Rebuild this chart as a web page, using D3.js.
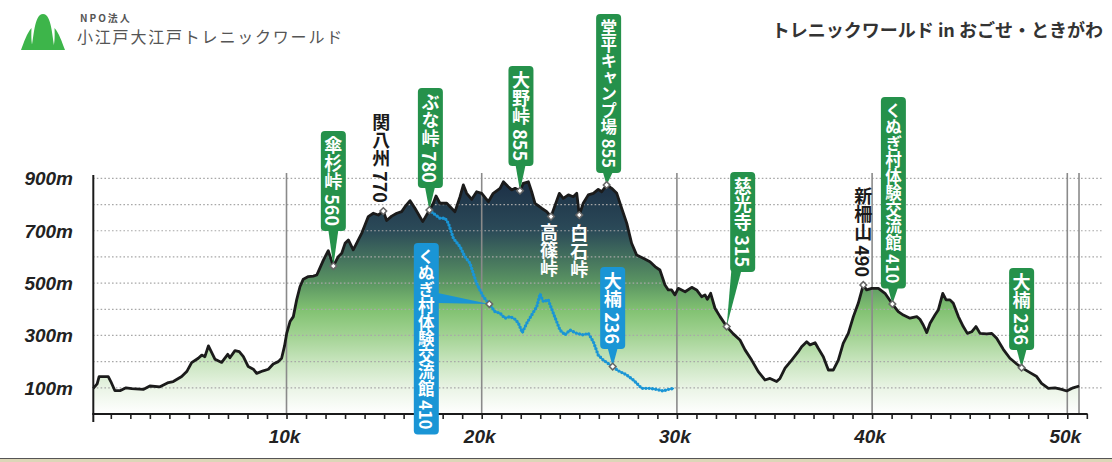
<!DOCTYPE html>
<html>
<head>
<meta charset="utf-8">
<script src="https://cdn.jsdelivr.net/npm/d3@7"></script>
<style>
  body { margin: 0; background: #fff; }
  svg { display: block; font-family: "Noto Sans CJK JP", "Noto Sans", sans-serif; }
  .axisLabel { font-family: "Liberation Sans", Arial, sans-serif; font-weight: bold; font-style: italic; font-size: 19px; fill: #222; }
</style>
</head>
<body>
<div id="chart"></div>
<script>
// main route: distance (km) / elevation (m)
const routeKm = [0.1, 0.3, 0.4, 0.87, 1.0, 1.21, 1.47, 1.78, 2.07, 2.66, 3.0, 3.52, 3.95, 4.2, 4.63, 4.89, 5.14, 5.48, 5.66, 5.82,
  6.0, 6.34, 6.68, 6.99, 7.1, 7.36, 7.58, 7.79, 8.04, 8.3, 8.47, 8.81, 9.07, 9.32, 9.58, 9.75, 9.9, 10.01, 10.18, 10.35,
  10.52, 10.69, 10.86, 11.12, 11.37, 11.55, 11.63, 11.89, 12.14, 12.4, 12.65, 12.83, 13.0, 13.17, 13.42, 13.68, 13.85, 14.02, 14.19, 14.45,
  14.7, 14.96, 15.13, 15.39, 15.65, 15.9, 16.07, 16.33, 16.58, 16.98, 17.32, 17.52, 17.66, 17.86, 18.21, 18.63, 18.89, 19.06, 19.23, 19.49,
  19.74, 20.0, 20.34, 20.59, 20.94, 21.11, 21.36, 21.54, 21.71, 21.96, 22.13, 22.39, 22.56, 22.73, 23.07, 23.33, 23.55, 23.76, 23.98, 24.18,
  24.44, 24.69, 24.87, 25.0, 25.2, 25.46, 25.72, 25.97, 26.15, 26.4, 26.66, 26.92, 27.17, 27.43, 27.68, 27.94, 28.28, 28.62, 28.88, 29.13,
  29.39, 29.56, 29.73, 29.9, 30.07, 30.42, 30.76, 31.01, 31.27, 31.44, 31.56, 31.73, 31.95, 32.21, 32.55, 32.89, 33.23, 33.49, 33.83, 34.17,
  34.51, 34.77, 35.11, 35.28, 35.54, 35.88, 36.22, 36.39, 36.65, 36.82, 37.08, 37.24, 37.5, 37.76, 38.01, 38.27, 38.52, 38.78, 39.04, 39.29,
  39.55, 39.72, 39.98, 40.32, 40.66, 41.04, 41.34, 41.6, 41.94, 42.29, 42.45, 42.62, 42.8, 42.97, 43.22, 43.39, 43.62, 43.79, 43.99, 44.16,
  44.42, 44.67, 44.88, 45.1, 45.32, 45.53, 45.87, 46.13, 46.38, 46.72, 47.06, 47.41, 47.66, 48.09, 48.43, 48.68, 49.03, 49.37, 49.71, 49.97,
  50.3, 50.61];
const routeElev = [98, 115, 143, 143, 124, 89, 89, 100, 97, 94, 107, 104, 120, 124, 143, 162, 196, 213, 225, 219,
  260, 209, 197, 228, 215, 242, 238, 219, 181, 171, 155, 165, 171, 191, 200, 213, 260, 308, 353, 372,
  436, 486, 515, 525, 527, 531, 544, 588, 624, 565, 601, 614, 652, 665, 627, 665, 690, 722, 754, 767,
  760, 775, 739, 756, 767, 773, 792, 815, 786, 735, 779, 805, 833, 805, 805, 773, 830, 875, 843, 820,
  849, 843, 811, 843, 862, 887, 868, 856, 862, 853, 881, 887, 849, 805, 786, 773, 754, 798, 843, 824,
  837, 830, 843, 760, 805, 837, 843, 858, 849, 875, 862, 843, 786, 729, 652, 607, 595, 582, 563, 550,
  493, 474, 474, 455, 480, 467, 484, 474, 448, 455, 438, 461, 404, 372, 334, 306, 283, 245, 206, 162,
  130, 136, 124, 136, 175, 206, 238, 257, 276, 264, 272, 251, 219, 168, 168, 206, 270, 308, 372, 423,
  493, 474, 480, 480, 461, 420, 391, 378, 366, 372, 362, 340, 311, 347, 378, 397, 461, 436, 436, 423,
  372, 334, 308, 314, 334, 308, 306, 308, 289, 247, 213, 191, 177, 158, 143, 117, 98, 100, 94, 88,
  100, 107];

// alternative route (blue, dotted)
const altKm = [17.32, 17.52, 17.86, 18.12, 18.29, 18.55, 18.89, 19.14, 19.4, 19.74, 20.08, 20.39, 20.68, 20.94, 21.19, 21.45, 21.71, 21.88, 22.08, 22.31,
  22.56, 22.82, 22.99, 23.16, 23.41, 23.67, 24.01, 24.27, 24.52, 24.87, 25.2, 25.46, 25.72, 25.97, 26.23, 26.71, 27.0, 27.43, 27.77, 28.2,
  28.62, 28.97, 29.3, 29.56, 29.85];
const altElev = [779, 767, 748, 748, 729, 671, 639, 601, 576, 499, 448, 420, 391, 385, 366, 372, 362, 347, 311, 347,
  378, 410, 458, 429, 436, 385, 321, 302, 321, 308, 302, 308, 276, 225, 206, 181, 165, 149, 130, 98,
  98, 94, 88, 94, 98];

// points of interest
const spotNames = ['傘杉峠 560', '関八州 770', 'ぶな峠 780', '大野峠 855', '高篠峠', '白石峠', '堂平キャンプ場 855',
  '慈光寺 315', '新柵山 490', 'くぬぎ村体験交流館 410', '大楠 236', 'くぬぎ村体験交流館 410', '大楠 236'];
const spotKm = [12.4, 14.96, 17.32, 21.96, 23.55, 25.0, 26.4, 32.55, 39.55, 41.04, 47.66, 20.39, 26.71];
const spotElev = [565, 775, 779, 853, 754, 760, 875, 334, 493, 420, 177, 420, 181];

const yTicks = [100, 300, 500, 700, 900];
const yGrid = [100, 200, 300, 400, 500, 600, 700, 800, 900];
const xTicks = [10, 20, 30, 40, 50];
const xTickLabels = ['10k', '20k', '30k', '40k', '50k'];
const courseEnd = 50.6;

const titleText = 'トレニックワールド in おごせ・ときがわ';

// label placement (style, dx from marker, top y, font size, pointer side)
const labelLayout = [
  { kind: 'green', dx: 0, top: 131, fs: 18 },
  { kind: 'dark', dx: -2, top: 113, fs: 18 },
  { kind: 'green', dx: 1, top: 88, fs: 18 },
  { kind: 'green', dx: 1, top: 66, fs: 18 },
  { kind: 'white', dx: -2, top: 223, fs: 18 },
  { kind: 'white', dx: 0, top: 224, fs: 18 },
  { kind: 'green', dx: 2, top: 14, fs: 16.5 },
  { kind: 'green', dx: 16, top: 172, fs: 18 },
  { kind: 'dark', dx: 0, top: 187, fs: 18 },
  { kind: 'green', dx: 1, top: 97, fs: 16.5 },
  { kind: 'green', dx: 0, top: 268, fs: 18 },
  { kind: 'blue', dx: -63, top: 243, fs: 16.5, side: 'right' },
  { kind: 'blue', dx: 0, top: 267, fs: 18 }
];

const width = 1112, height = 462;
const svg = d3.select('#chart').append('svg')
  .attr('width', width)
  .attr('height', height);

const x = d3.scaleLinear().domain([0, 50]).range([91.3, 1067.3]);
const y = d3.scaleLinear().domain([0, 900]).range([414, 178.4]);

const route = routeKm.map((k, i) => ({ km: k, elev: routeElev[i] }));
const alt = altKm.map((k, i) => ({ km: k, elev: altElev[i] }));

// gradient fill for the profile
const grad = svg.append('defs').append('linearGradient')
  .attr('id', 'elevFill')
  .attr('gradientUnits', 'userSpaceOnUse')
  .attr('x1', 0).attr('x2', 0)
  .attr('y1', y(900)).attr('y2', y(0));
[[0, '#1b2e45'], [0.22, '#2b4a58'], [0.44, '#5a9462'], [0.56, '#82c272'], [0.67, '#a3d394'],
 [0.78, '#c9e5bf'], [0.9, '#ecf5e8'], [1, '#ffffff']].forEach(s => {
  grad.append('stop').attr('offset', s[0]).attr('stop-color', s[1]);
});

// logo
const logo = svg.append('g');
logo.append('path')
  .attr('d', 'M31,50 C34,38 34,14 43,14 C52,14 52,38 55,50 Z')
  .attr('fill', '#3db54a');
logo.append('path')
  .attr('d', 'M21,50 C24,42 27,33 31.5,28 C31,38 31.5,45 33.5,50 Z')
  .attr('fill', '#3db54a');
logo.append('path')
  .attr('d', 'M65,50 C62,42 59,33 54.5,28 C55,38 54.5,45 52.5,50 Z')
  .attr('fill', '#3db54a');
logo.append('text')
  .attr('x', 80).attr('y', 22)
  .style('font-size', '10px').style('font-weight', 'bold')
  .style('letter-spacing', '2px').style('fill', '#555')
  .text('NPO法人');
logo.append('text')
  .attr('x', 77).attr('y', 43)
  .style('font-size', '16px')
  .style('letter-spacing', '1.8px').style('fill', '#555')
  .text('小江戸大江戸トレニックワールド');

svg.append('text')
  .attr('x', 1103).attr('y', 37)
  .attr('text-anchor', 'end')
  .style('font-size', '18px').style('font-weight', 'bold').style('fill', '#333')
  .text(titleText);

// filled profile
const area = d3.area()
  .x(d => x(d.km))
  .y0(y(0))
  .y1(d => y(d.elev));
svg.append('path')
  .datum(route)
  .attr('d', area)
  .attr('fill', 'url(#elevFill)');

// horizontal dotted grid
svg.append('g').selectAll('line')
  .data(yGrid)
  .join('line')
  .attr('x1', 93).attr('x2', 1103)
  .attr('y1', d => y(d)).attr('y2', d => y(d))
  .attr('stroke', '#a8a8a8')
  .attr('stroke-width', 1.2)
  .attr('stroke-dasharray', '1.6,2.2');

// vertical km lines
svg.append('g').selectAll('line')
  .data(xTicks.concat([courseEnd]))
  .join('line')
  .attr('x1', d => x(d)).attr('x2', d => x(d))
  .attr('y1', 173).attr('y2', y(0))
  .attr('stroke', '#8a8a8a')
  .attr('stroke-width', 1.6);

// y labels
svg.append('g').selectAll('text')
  .data(yTicks)
  .join('text')
  .attr('class', 'axisLabel')
  .attr('x', 73)
  .attr('y', d => y(d))
  .attr('dy', '0.36em')
  .attr('text-anchor', 'end')
  .text(d => d + 'm');

// x axis
const xAxis = d3.axisBottom(x)
  .tickValues(d3.range(1, 52))
  .tickSize(5)
  .tickFormat('');
const gx = svg.append('g')
  .attr('transform', `translate(0, ${y(0)})`)
  .call(xAxis);
gx.select('.domain').remove();
gx.selectAll('.tick line').attr('stroke', '#222').attr('stroke-width', 1.6);
svg.append('line')
  .attr('x1', 92.3).attr('x2', x(51) + 0.8)
  .attr('y1', y(0)).attr('y2', y(0))
  .attr('stroke', '#1a1a1a').attr('stroke-width', 2);
svg.append('line')
  .attr('x1', 93.3).attr('x2', 93.3)
  .attr('y1', 175).attr('y2', 422)
  .attr('stroke', '#1a1a1a').attr('stroke-width', 2);

svg.append('g').selectAll('text')
  .data(xTicks)
  .join('text')
  .attr('class', 'axisLabel')
  .attr('x', (d, i) => x(d) - 2)
  .attr('y', 443)
  .attr('text-anchor', 'middle')
  .text((d, i) => xTickLabels[i]);

// alternative route: thin line with dots
const line = d3.line().x(d => x(d.km)).y(d => y(d.elev));
svg.append('path')
  .datum(alt)
  .attr('d', line)
  .attr('fill', 'none')
  .attr('stroke', '#1a95d5')
  .attr('stroke-width', 1.2);
svg.append('path')
  .datum(alt)
  .attr('d', line)
  .attr('fill', 'none')
  .attr('stroke', '#1a95d5')
  .attr('stroke-width', 3.4)
  .attr('stroke-linecap', 'round')
  .attr('stroke-dasharray', '0,3.3');

// main route line
svg.append('path')
  .datum(route)
  .attr('d', line)
  .attr('fill', 'none')
  .attr('stroke', '#1b1b1b')
  .attr('stroke-width', 2.8)
  .attr('stroke-linejoin', 'round');

// callouts
const colours = { green: '#25914b', blue: '#1a95d5' };
const textColours = { green: '#fff', blue: '#fff', dark: '#1a1a1a', white: '#fff' };
const calloutLayer = svg.append('g');
const markerLayer = svg.append('g');

spotNames.forEach((name, i) => {
  const lay = labelLayout[i];
  const mx = x(spotKm[i]), my = y(spotElev[i]);
  const cx = mx + lay.dx;
  const pad = lay.kind === 'green' || lay.kind === 'blue' ? 5 : 0;
  const g = calloutLayer.append('g');
  const boxG = g.append('g');
  const t = g.append('text')
    .attr('x', cx)
    .attr('y', lay.top + pad)
    .style('writing-mode', 'vertical-rl')
    .style('font-size', lay.fs + 'px')
    .style('font-weight', 'bold')
    .style('fill', textColours[lay.kind])
    .text(name);
  const bb = t.node().getBBox();
  t.attr('transform', `translate(${cx - (bb.x + bb.width / 2)}, ${lay.top + pad - bb.y})`);
  if (colours[lay.kind]) {
    const w = 25, h = bb.height + pad * 2;
    const bottom = lay.top + h;
    let pts;
    if (lay.side === 'right') {
      const py = my - 6;
      pts = [[cx + w / 2 - 1, py - 5], [mx, my], [cx + w / 2 - 1, py + 5]];
    } else {
      const bx = cx - lay.dx * 0.4;
      pts = [[bx - 5, bottom - 1], [mx, my], [bx + 5, bottom - 1]];
    }
    boxG.append('path')
      .attr('d', d3.line()(pts) + 'Z')
      .attr('fill', colours[lay.kind]);
    boxG.append('rect')
      .attr('x', cx - w / 2)
      .attr('y', lay.top)
      .attr('width', w)
      .attr('height', h)
      .attr('rx', 4)
      .attr('fill', colours[lay.kind]);
  }
  markerLayer.append('path')
    .attr('d', d3.symbol(d3.symbolSquare, 22)())
    .attr('transform', `translate(${mx},${my}) rotate(45)`)
    .attr('fill', '#fff')
    .attr('stroke', '#666')
    .attr('stroke-width', 1.5);
});

// map strip at the bottom
svg.append('rect')
  .attr('x', 0).attr('y', 459)
  .attr('width', width).attr('height', 3)
  .attr('fill', '#dcd6b8');
svg.append('line')
  .attr('x1', 0).attr('x2', width)
  .attr('y1', 458.5).attr('y2', 458.5)
  .attr('stroke', '#555').attr('stroke-width', 1);
</script>
</body>
</html>
